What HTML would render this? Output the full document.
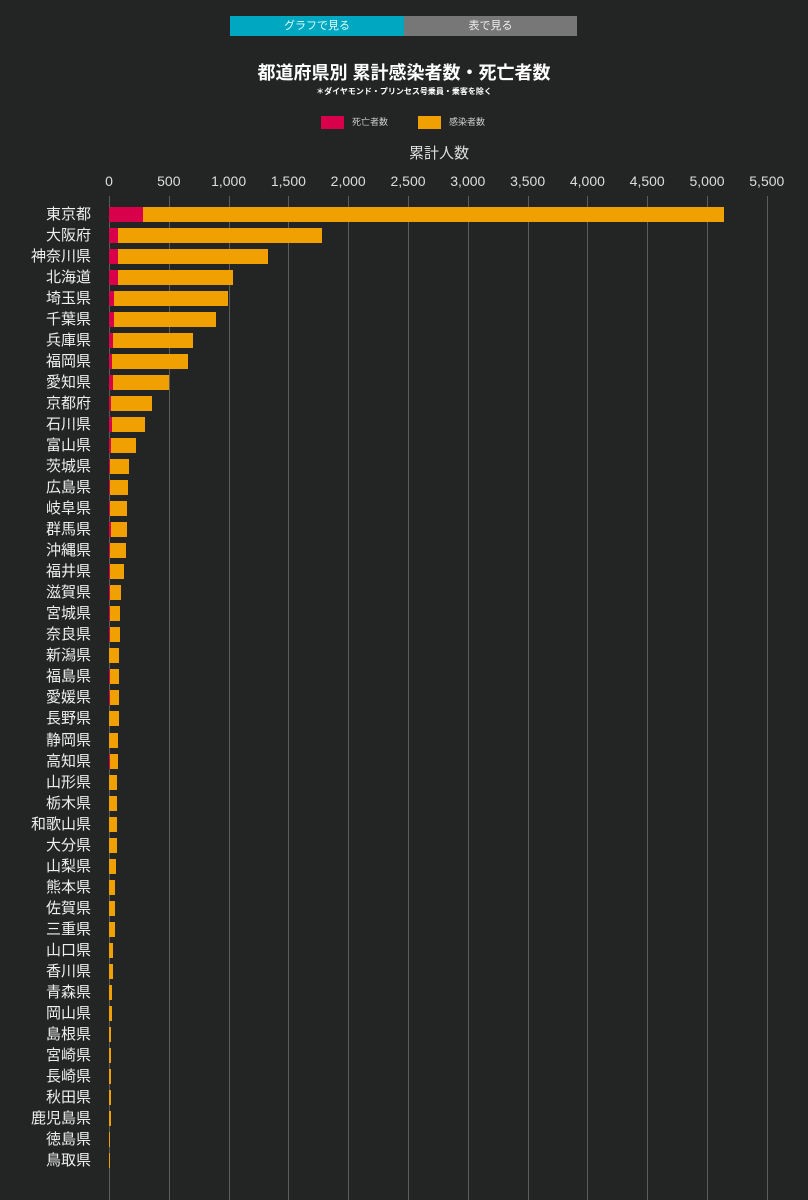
<!DOCTYPE html>
<html><head><meta charset="utf-8"><style>
body{margin:0;width:808px;height:1200px;background:#222524;font-family:"Liberation Sans","Noto Sans CJK JP",sans-serif;color:#fff;position:relative;overflow:hidden}
.a{position:absolute}
.lab{position:absolute;right:717px;font-size:15px;color:#eee;white-space:nowrap;line-height:21px}
.bar{position:absolute;height:15px;background:#f0a000;left:109px}
.red{position:absolute;height:15px;background:#d8004a;left:109px}
.tick{position:absolute;top:173px;font-size:14px;color:#ddd;transform:translateX(-50%)}
.g{position:absolute;top:196px;height:1004px;width:1px;background:#5a5d5c}
</style></head><body>
<div class="a" style="left:230px;top:16px;width:174px;height:20px;background:#00a7c0;color:#dff;font-size:11px;text-align:center;line-height:20px">グラフで見る</div>
<div class="a" style="left:404px;top:16px;width:173px;height:20px;background:#777;color:#eee;font-size:11px;text-align:center;line-height:20px">表で見る</div>
<div class="a" style="left:0;width:808px;top:59px;text-align:center;font-size:18px;font-weight:bold">都道府県別 累計感染者数・死亡者数</div>
<div class="a" style="left:0;width:808px;top:86px;text-align:center;font-size:8px;font-weight:bold">＊ダイヤモンド・プリンセス号乗員・乗客を除く</div>
<div class="a" style="left:321px;top:116px;width:23px;height:13px;background:#d8004a"></div>
<div class="a" style="left:352px;top:115px;font-size:9px;color:#ccc">死亡者数</div>
<div class="a" style="left:418px;top:116px;width:23px;height:13px;background:#f0a000"></div>
<div class="a" style="left:449px;top:115px;font-size:9px;color:#ccc">感染者数</div>
<div class="a" style="left:0;width:878px;top:142px;text-align:center;font-size:15px;color:#ddd">累計人数</div>
<div id="c"></div>
<script>
var ticks=["0","500","1,000","1,500","2,000","2,500","3,000","3,500","4,000","4,500","5,000","5,500"];
var h="";
for(var i=0;i<12;i++){var x=109+i*59.8;h+='<div class="g" style="left:'+x+'px"></div><div class="tick" style="left:'+x+'px">'+ticks[i]+'</div>';}
var d=[["東京都",724,143],["大阪府",322,118],["神奈川県",268,118],["北海道",233,118],["埼玉県",228,114],["千葉県",216,114],["兵庫県",193,113],["福岡県",188,112],["愛知県",169,113],["京都府",152,111],["石川県",145,112],["富山県",136,111],["茨城県",129,110],["広島県",128,110],["岐阜県",127,110],["群馬県",127,111],["沖縄県",126,110],["福井県",124,110],["滋賀県",121,110],["宮城県",120,110],["奈良県",120,110],["新潟県",119,109],["福島県",119,110],["愛媛県",119,110],["長野県",119,109],["静岡県",118,109],["高知県",118,110],["山形県",117,109],["栃木県",117,109],["和歌山県",117,109],["大分県",117,109],["山梨県",116,109],["熊本県",115,109],["佐賀県",115,109],["三重県",115,109],["山口県",113,109],["香川県",113,109],["青森県",112,109],["岡山県",112,109],["島根県",111,109],["宮崎県",111,109],["長崎県",111,109],["秋田県",111,109],["鹿児島県",111,109],["徳島県",109.5,109],["鳥取県",109.5,109]];
for(var i=0;i<d.length;i++){var y=207+i*21.02;
h+='<div class="lab" style="top:'+(y-3)+'px">'+d[i][0]+'</div>';
h+='<div class="bar" style="top:'+y+'px;width:'+(d[i][1]-109)+'px"></div>';
if(d[i][2]>109)h+='<div class="red" style="top:'+y+'px;width:'+(d[i][2]-109)+'px"></div>';}
document.getElementById("c").innerHTML=h;
</script>
</body></html>
